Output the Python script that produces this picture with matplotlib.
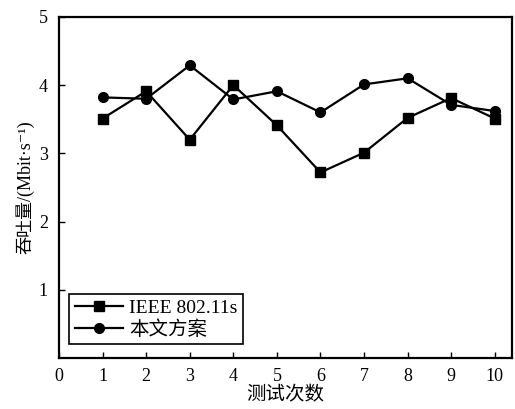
import matplotlib

matplotlib.use("Agg")
import matplotlib.pyplot as plt

plt.rcParams["font.family"] = ["Liberation Serif", "Noto Sans CJK SC", "DejaVu Sans"]

trials = [1, 2, 3, 4, 5, 6, 7, 8, 9, 10]
ieee_80211s = [3.51, 3.91, 3.20, 4.00, 3.41, 2.72, 3.01, 3.52, 3.81, 3.51]
proposed = [3.82, 3.80, 4.29, 3.79, 3.91, 3.60, 4.01, 4.10, 3.71, 3.62]
series_labels = ["IEEE 802.11s", "本文方案"]

fig = plt.figure(figsize=(5.15, 4.09), dpi=100)
ax = fig.add_axes([0.1146, 0.1247, 0.880, 0.834])

ax.plot(trials, ieee_80211s, color="black", lw=1.6, marker="s", ms=7,
        label=series_labels[0])
ax.plot(trials, proposed, color="black", lw=1.6, marker="o", ms=7,
        label=series_labels[1])

ax.set_xlim(0, 10.4)
ax.set_ylim(0, 5)
ax.set_xticks(range(0, 11))
ax.set_yticks([1, 2, 3, 4, 5])
ax.tick_params(direction="in", labelsize=13, length=4, width=1)
ax.tick_params(axis="x", pad=7)
ax.tick_params(axis="y", pad=8)
for s in ax.spines.values():
    s.set_linewidth(1.6)

ax.set_xlabel("测试次数", fontsize=14, family=["Noto Sans CJK SC"], labelpad=0)
ax.set_ylabel("吞吐量/(Mbit·s\u207b\u00b9)", fontsize=13,
              family=["Liberation Serif", "Noto Sans CJK SC", "DejaVu Sans"],
              labelpad=3)

leg = ax.legend(loc="lower left", bbox_to_anchor=(0.022, 0.04),
                fontsize=14, handlelength=2.5, handletextpad=0.3,
                borderpad=0.3, labelspacing=0.15, fancybox=False,
                framealpha=1, borderaxespad=0)
leg.get_frame().set_edgecolor("black")
leg.get_frame().set_linewidth(1.2)

fig.savefig("out.png", dpi=100)
plt.close(fig)
